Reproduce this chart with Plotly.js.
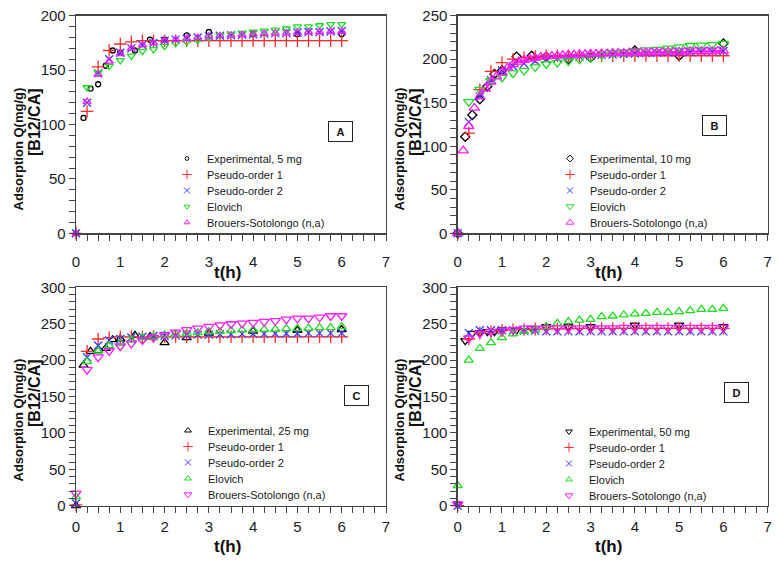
<!DOCTYPE html>
<html>
<head>
<meta charset="utf-8">
<script src="https://cdn.plot.ly/plotly-3.0.1.min.js"></script>
<style>html,body{margin:0;padding:0;background:#fff}#chart{width:781px;height:562px}</style>
</head>
<body>
<div id="chart"></div>
<script>
// ---- time grids (h) ----
const tModel = [0,0.25,0.5,0.75,1,1.25,1.5,1.75,2,2.25,2.5,2.75,3,3.25,3.5,3.75,4,4.25,4.5,4.75,5,5.25,5.5,5.75,6];
const tFine = [0,0.125,0.25,0.375,0.5,0.625,0.75,0.875,1,1.125,1.25,1.375,1.5,1.625,1.75,1.875,2,2.125,2.25,2.375,2.5,2.625,2.75,2.875,3,3.125,3.25,3.375,3.5,3.625,3.75,3.875,4,4.125,4.25,4.375,4.5,4.625,4.75,4.875,5,5.125,5.25,5.375,5.5,5.625,5.75,5.875,6];
const tExp = [0,0.17,0.33,0.5,0.67,0.83,1,1.33,1.67,2,2.5,3,4,5,6];

// ---- panel A (5 mg) ----
const expA = [0,106,133,137,154,168,166,168,178,178,182,185,183,183,183];
const po1A = [0,112,153,168,174,176,177,177,177,177,177,177,177,177,177,177,177,177,177,177,177,177,177,177,177];
const po2A = [0,120,147,160,166,170,173,175,177,178,179,180,181,181.5,182,182.5,183,183.5,184,184,184.5,185,185,185.5,186];
const eloA = [null,134,147.6,153.7,159,163,167.5,169,172,174.6,176,177.6,180,182,183,184,185,186,187,188,190,190,191,192,192];
const bsA  = [0,121,146,158,165,170,173,175,177,178,179,180,181,181.5,182,182.5,183,183.5,184,184,184.5,185,185,185.5,185.5];

// ---- panel B (10 mg) ----
const expB = [0,111,136,154,169,183,187,203,204,203,200,202,210,204,218];
const po1B = [0,115,165,186,196,200,202,203,204,204,204,204,204,204,204,204,204,204,204,204,204,204,204,204,204];
const po2B = [0,128,157,176,187,192,195,198,200,201,202,203,204,205,205.5,206,206.5,207,207.5,208,208,208.5,209,209,209.5];
const eloB = [null,151,165,175,179,184,187,191,194.5,196,198,200,202,205,207,208,209,210.5,211,212.5,214,215.5,216,216.5,218];
const bsB  = [0,95,123,144,157,166,174,180,185,190,194,197,199,200.5,201.5,202.5,203,203.5,204,204.5,205,205,205.5,205.5,206,206,206.5,206.5,207,207,207,207.5,207.5,207.5,208,208,208,208,208.5,208.5,208.5,208.5,209,209,209,209,209,209.5,209.5];

// ---- panel C (25 mg) ----
const expC = [0,193,212,213,216,228,229,234,232,224,231,237,240,241,242];
const po1C = [1,212,229,231,232,232,232,232,232,232,232,232,232,232,232,232,232,232,232,232,232,232,232,232,232];
const po2C = [3,204,220,227,229,231,232,233,233.5,234,234.5,235,235,235.5,235.5,236,236,236,236.5,236.5,236.5,237,237,237,237];
const eloC = [12,198,212.5,220,223,227.6,231,232,234.5,236,236.8,237.7,239,239,240.5,241.4,241.4,242.3,242.3,243.2,243.7,244,244.6,244.6,246];
const bsC  = [17,187,204,212.5,219,223,227.6,231,234.5,238,241.4,243.7,246,248,249.6,250.5,251.5,252.8,254,256,257.4,257.4,258.8,260.6,260.6];

// ---- panel D (50 mg) ----
const expD = [2,226.7,236.8,237.7,239,239,241.4,241.4,243.7,246,246,246,248,248,246];
const po1D = [0,229,237,239,240.5,241.5,242,242.5,243,243,243,243.5,243.5,243.5,243.5,243.5,243.5,243.5,243.5,243.5,243.5,243.5,243.5,243.5,243.5];
const po2D = [0,237,241,241,241,241,240.5,240.5,239.5,239.5,239.5,239.5,239.5,239.5,239.5,239.5,239.5,239.5,239.5,239.5,239.5,239.5,239.5,239.5,239.5];
const eloD = [27.5,200,216,224,231,236,239,241.4,246,250.5,252.8,255,256,259.7,260.6,262,263.4,264.3,265.6,265.6,266.6,268,269.8,269.8,271];
const bsD  = [2,230,236.8,239,240.5,241.4,243.7,243.7,244,244,244,244,244,244,244,244.5,244.5,244.5,244.5,244.5,244.5,244.5,244.5,244.5,244.5];

const names = ["Pseudo-order 1","Pseudo-order 2","Elovich","Brouers-Sotolongo (n,a)"];
const expNames = ["Experimental, 5 mg","Experimental, 10 mg","Experimental, 25 mg","Experimental, 50 mg"];

const RED = "#ff2a2a", BLUE = "#3b3bff", GREEN = "#1fdc1f", MAG = "#ff1aff", BLK = "#000000";
const FONT = "Liberation Sans, Arial, sans-serif";

function sc(x, y, name, sym, color, size, xa, ya, leg) {
  return {
    type: "scatter", mode: "markers", x: x, y: y, name: name,
    xaxis: xa, yaxis: ya, legend: leg, cliponaxis: false,
    marker: { symbol: sym, color: color, size: size, line: { color: color, width: 1.3 } }
  };
}

// fitted Brouers-Sotolongo curve line for panel B (drawn from t = 0.5 h on)
const bsLineB = {
  type: "scatter", mode: "lines", x: tFine.slice(4), y: bsB.slice(4), xaxis: "x2", yaxis: "y2",
  showlegend: false, line: { color: MAG, width: 2 }, hoverinfo: "skip"
};

const traces = [
  // A
  sc(tExp, expA, expNames[0], "circle-open", BLK, 5, "x", "y", "legend"),
  sc(tModel, po1A, names[0], "cross-thin-open", RED, 9, "x", "y", "legend"),
  sc(tModel, po2A, names[1], "x-thin-open", BLUE, 8, "x", "y", "legend"),
  sc(tModel, eloA, names[2], "triangle-down-open", GREEN, 7, "x", "y", "legend"),
  sc(tModel, bsA, names[3], "triangle-up-open", MAG, 7, "x", "y", "legend"),
  // B
  bsLineB,
  sc(tExp, expB, expNames[1], "diamond-open", BLK, 7, "x2", "y2", "legend2"),
  sc(tModel, po1B, names[0], "cross-thin-open", RED, 9, "x2", "y2", "legend2"),
  sc(tModel, po2B, names[1], "x-thin-open", BLUE, 8, "x2", "y2", "legend2"),
  sc(tModel, eloB, names[2], "triangle-down-open", GREEN, 9, "x2", "y2", "legend2"),
  sc(tFine, bsB, names[3], "triangle-up-open", MAG, 9, "x2", "y2", "legend2"),
  // C
  sc(tExp, expC, expNames[2], "triangle-up-open", BLK, 8, "x3", "y3", "legend3"),
  sc(tModel, po1C, names[0], "cross-thin-open", RED, 9, "x3", "y3", "legend3"),
  sc(tModel, po2C, names[1], "x-thin-open", BLUE, 8, "x3", "y3", "legend3"),
  sc(tModel, eloC, names[2], "triangle-up-open", GREEN, 8, "x3", "y3", "legend3"),
  sc(tModel, bsC, names[3], "triangle-down-open", MAG, 9, "x3", "y3", "legend3"),
  // D
  sc(tExp, expD, expNames[3], "triangle-down-open", BLK, 8, "x4", "y4", "legend4"),
  sc(tModel, po1D, names[0], "cross-thin-open", RED, 9, "x4", "y4", "legend4"),
  sc(tModel, po2D, names[1], "x-thin-open", BLUE, 8, "x4", "y4", "legend4"),
  sc(tModel, eloD, names[2], "triangle-up-open", GREEN, 8, "x4", "y4", "legend4"),
  sc(tModel, bsD, names[3], "triangle-down-open", MAG, 9, "x4", "y4", "legend4")
];

const W = 781, H = 562;
const px = v => v / W, py = v => 1 - v / H;

function xax(dom, anchor, standoff) {
  return {
    domain: dom, anchor: anchor, range: [0, 7], dtick: 1, tick0: 0,
    showgrid: false, zeroline: false, showline: true, mirror: true,
    linecolor: "#444", linewidth: 1.3, ticks: "outside", ticklen: 6, tickcolor: "#444", tickwidth: 1,
    ticklabelstandoff: standoff,
    minor: { dtick: 0.25, ticks: "outside", ticklen: 6, tickcolor: "#444", tickwidth: 1, showgrid: false },
    tickfont: { family: FONT, size: 15, color: "#1c1c28" }, fixedrange: true
  };
}
function yax(dom, anchor, top, dt) {
  return {
    domain: dom, anchor: anchor, range: [0, top], dtick: dt, tick0: 0,
    showgrid: false, zeroline: false, showline: true, mirror: true,
    linecolor: "#444", linewidth: 1.3, ticks: "outside", ticklen: 6, tickcolor: "#444", tickwidth: 1,
    minor: { dtick: 10, ticks: "outside", ticklen: 6, tickcolor: "#444", tickwidth: 1, showgrid: false },
    tickfont: { family: FONT, size: 15, color: "#1c1c28" }, fixedrange: true
  };
}
function leg(xpx, ypx) {
  return { x: px(xpx), y: py(ypx), xanchor: "left", yanchor: "top", bgcolor: "rgba(0,0,0,0)",
    font: { family: FONT, size: 11, color: "#1a1a1a" }, borderwidth: 0 };
}

const annots = [];
function ytitle(xc1, xc2, topPx) {
  annots.push({ xref: "paper", yref: "paper", x: px(xc1), y: py(topPx), xanchor: "center", yanchor: "top",
    text: "<b>Adsorption Q(mg/g)</b>", textangle: -90, showarrow: false, font: { family: FONT, size: 13, color: "#111" } });
  annots.push({ xref: "paper", yref: "paper", x: px(xc2), y: py(topPx), xanchor: "center", yanchor: "top",
    text: "<b>[B12/CA]</b>", textangle: -90, showarrow: false, font: { family: FONT, size: 16, color: "#111" } });
}
function xtitle(xc, yc) {
  annots.push({ xref: "paper", yref: "paper", x: px(xc), y: py(yc), xanchor: "center", yanchor: "middle",
    text: "<b>t(h)</b>", showarrow: false, font: { family: FONT, size: 17, color: "#111" } });
}
function tag(txt, xc, yc) {
  annots.push({ xref: "paper", yref: "paper", x: px(xc), y: py(yc), xanchor: "center", yanchor: "middle",
    text: "<b>" + txt + "</b>", showarrow: false, width: 19, height: 15, borderpad: 2, borderwidth: 1,
    bordercolor: "#222", font: { family: FONT, size: 11, color: "#111" } });
}
ytitle(18, 34, 86); ytitle(399, 415, 86); ytitle(18, 34, 357); ytitle(399, 415, 357);
xtitle(227, 272); xtitle(608, 272); xtitle(227, 546); xtitle(608, 546);
tag("A", 340.5, 131.5); tag("B", 714, 125); tag("C", 356, 395); tag("D", 736, 392.5);

const layout = {
  width: W, height: H, margin: { l: 0, r: 0, t: 0, b: 0 },
  paper_bgcolor: "#fff", plot_bgcolor: "#fff", showlegend: true,
  xaxis: xax([px(76), px(386)], "y", 8),
  yaxis: yax([py(233.3), py(15.7)], "x", 200, 50),
  xaxis2: xax([px(457.7), px(767.7)], "y2", 8),
  yaxis2: yax([py(233.3), py(15.7)], "x2", 250, 50),
  xaxis3: xax([px(76), px(386)], "y3", 1),
  yaxis3: yax([py(505.7), py(287.3)], "x3", 300, 50),
  xaxis4: xax([px(457.7), px(767.7)], "y4", 1),
  yaxis4: yax([py(505.7), py(287.3)], "x4", 300, 50),
  legend: leg(167, 144), legend2: leg(550, 144), legend3: leg(168, 416), legend4: leg(549, 417),
  annotations: annots
};

Plotly.newPlot("chart", traces, layout, { staticPlot: true, displayModeBar: false }).then(gd => {
  // tighten legend rows to the reference's 16 px spacing and use smaller legend symbols
  const groups = new Map();
  gd.querySelectorAll("g.traces").forEach(g => {
    const p = g.parentNode;
    if (!groups.has(p)) groups.set(p, []);
    groups.get(p).push(g);
  });
  const re = /translate\(\s*([-\d.e]+)[\s,]+([-\d.e]+)\s*\)/;
  groups.forEach(list => {
    const m = re.exec(list[0].getAttribute("transform") || "");
    if (!m) return;
    const x0 = parseFloat(m[1]), y0 = parseFloat(m[2]);
    list.forEach((g, i) => g.setAttribute("transform", "translate(" + x0 + "," + (y0 + i * 16) + ")"));
  });
  gd.querySelectorAll("g.legendpoints path").forEach(p => {
    const t = p.getAttribute("transform") || "";
    p.setAttribute("transform", t + " scale(0.75)");
  });
});
</script>
</body>
</html>
